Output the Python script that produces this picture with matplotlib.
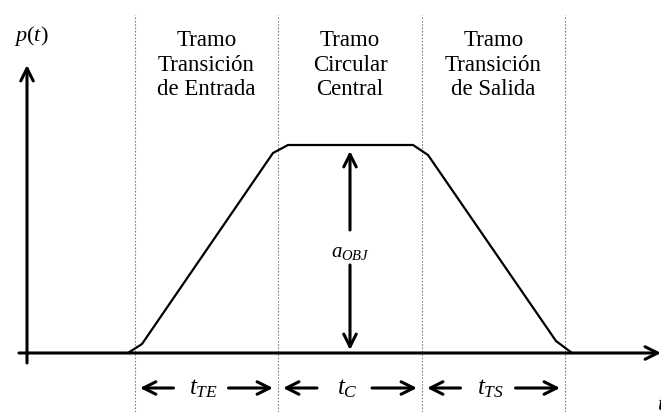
import matplotlib
matplotlib.use("Agg")
from matplotlib import pyplot as plt

plt.rcParams["font.family"] = ["Liberation Serif", "DejaVu Serif"]
plt.rcParams["mathtext.fontset"] = "custom"
plt.rcParams["mathtext.it"] = "Liberation Serif:italic"
plt.rcParams["mathtext.rm"] = "Liberation Serif"

# profile p(t): breakpoints of the trapezoid
t_prof = [101, 115, 246, 261, 386, 401, 529, 545]
p_prof = [0, 9, 200, 208, 208, 198, 12, 0]

# limits between the three stretches
t_limits = [108, 251, 395, 538]
stretch_names = ["Tramo\nTransición\nde Entrada",
                 "Tramo\nCircular\nCentral",
                 "Tramo\nTransición\nde Salida"]
stretch_times = [r"$t_{TE}$", r"$t_{C}$", r"$t_{TS}$"]
a_obj = 208

fig = plt.figure(figsize=(6.61, 4.12), dpi=100)
ax = fig.add_axes([0, 0, 1, 1])
ax.set_xlim(-27, 634)
ax.set_ylim(-59, 353)
ax.axis("off")

# axes of the diagram
arrow_kw = dict(arrowstyle="->,head_length=0.9,head_width=0.45", lw=2.2, color="black",
                shrinkA=0, shrinkB=0)
ax.annotate("", xy=(634, 0), xytext=(-8, 0), arrowprops=arrow_kw, annotation_clip=False)
ax.annotate("", xy=(0, 288), xytext=(0, -10), arrowprops=arrow_kw)
ax.text(4, 317, r"$p(t)$", fontsize=16, ha="center", va="center")
ax.text(634, -52, r"$t$", fontsize=16, ha="center", va="center")

# stretch limits
for t in t_limits:
    ax.plot([t, t], [-59, 338], color="gray", lw=0.8, ls=(0, (1.5, 1.5)))

# profile
ax.plot(t_prof, p_prof, color="black", lw=1.6, solid_joinstyle="miter")

# headings and durations
for i, name in enumerate(stretch_names):
    tc = (t_limits[i] + t_limits[i + 1]) / 2
    ax.text(tc, 288, name, fontsize=16.5, ha="center", va="center", linespacing=1.2)
    ax.text(tc - 3, -36, stretch_times[i], fontsize=18, ha="center", va="center")
    ax.annotate("", xy=(t_limits[i] + 5, -35), xytext=(tc - 33, -35), arrowprops=arrow_kw)
    ax.annotate("", xy=(t_limits[i + 1] - 5, -35), xytext=(tc + 22, -35), arrowprops=arrow_kw)

# amplitude a_OBJ
t_mid = (t_limits[1] + t_limits[2]) / 2
ax.annotate("", xy=(t_mid, a_obj - 6), xytext=(t_mid, 123), arrowprops=arrow_kw)
ax.annotate("", xy=(t_mid, 3), xytext=(t_mid, 88), arrowprops=arrow_kw)
ax.text(t_mid, 101, r"$a_{OBJ}$", fontsize=15, ha="center", va="center")

fig.savefig("out.png", dpi=100)
